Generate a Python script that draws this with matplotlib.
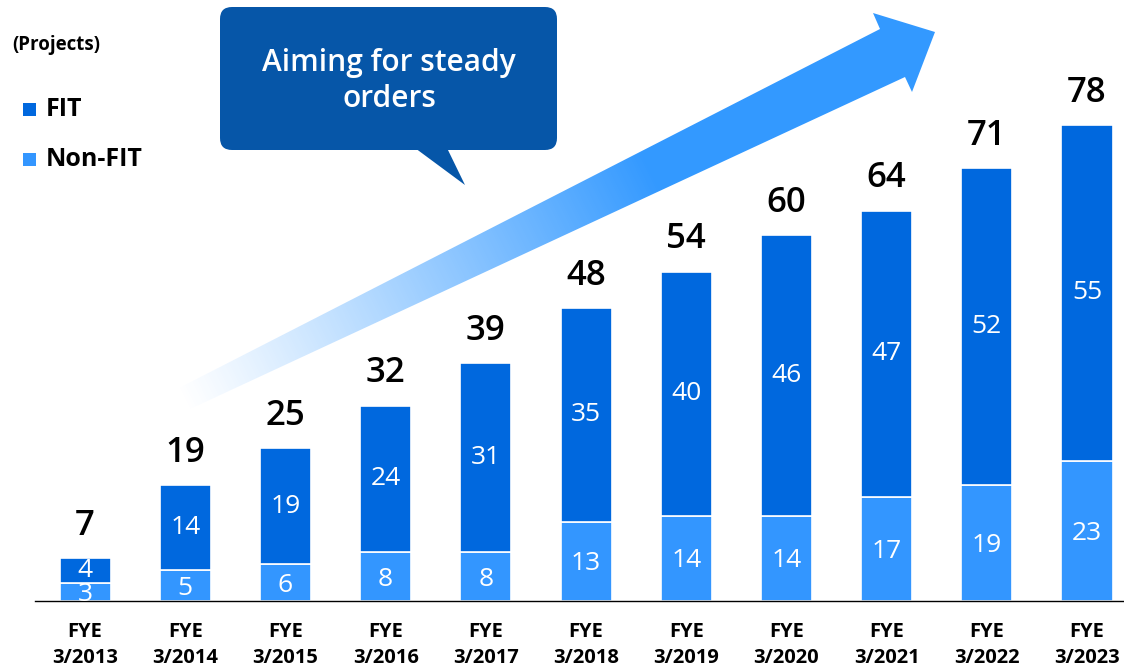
"""
Nombre de projets par exercice : barres empilées FIT / Non-FIT, avec flèche de tendance.
"""

import matplotlib.pyplot as plt
import numpy as np
from matplotlib.patches import FancyBboxPatch, Polygon, Rectangle

plt.rcParams['font.family'] = ['Open Sans', 'DejaVu Sans']

# Données
years = ["3/2013", "3/2014", "3/2015", "3/2016", "3/2017", "3/2018",
         "3/2019", "3/2020", "3/2021", "3/2022", "3/2023"]
non_fit = [3, 5, 6, 8, 8, 13, 14, 14, 17, 19, 23]
fit = [4, 14, 19, 24, 31, 35, 40, 46, 47, 52, 55]

FIT_COLOR = "#0068DE"
NON_FIT_COLOR = "#3396FF"
CALLOUT_COLOR = "#0656A8"
W, H = 1124, 672

fig = plt.figure(figsize=(W / 100, H / 100), dpi=100)

# Calque en coordonnées pixels pour la flèche, la bulle et la légende
deco = fig.add_axes([0, 0, 1, 1], zorder=0)
deco.set_xlim(0, W)
deco.set_ylim(H, 0)
deco.axis("off")

# Axe des barres
ax = fig.add_axes([35 / W, (H - 601) / H, (W - 35) / W, 601 / H], zorder=1)
ax.set_facecolor("none")

x = np.arange(len(years))
totals = [a + b for a, b in zip(non_fit, fit)]

ax.bar(x, non_fit, width=0.51, color=NON_FIT_COLOR, edgecolor="white", linewidth=1.2)
ax.bar(x, fit, width=0.51, bottom=non_fit, color=FIT_COLOR, edgecolor="white", linewidth=1.2)

for xi, nf, f, tot in zip(x, non_fit, fit, totals):
    ax.text(xi, nf / 2 - 0.4, str(nf), ha="center", va="center", color="white",
            fontsize=19, fontweight="medium")
    ax.text(xi, nf + f / 2, str(f), ha="center", va="center", color="white",
            fontsize=19, fontweight="medium")
    ax.annotate(str(tot), (xi, tot), xytext=(0, 11), textcoords="offset points",
                ha="center", va="bottom", fontsize=25, fontweight="semibold")

ax.set_xlim(-0.5, (W - 85) / 100.2)
ax.set_ylim(0, 98.5)
for side in ("top", "right", "left"):
    ax.spines[side].set_visible(False)
ax.spines["bottom"].set_linewidth(1.0)
ax.set_yticks([])
ax.set_xticks(x)
ax.set_xticklabels([f"FYE\n{y}" for y in years], fontsize=14.5, fontweight="bold",
                   linespacing=1.4)
ax.tick_params(axis="x", length=0, pad=15)

# Flèche de tendance avec dégradé
arrow_pts = np.array([
    (177, 389), (880, 29), (873, 13), (935, 32), (912, 92), (905, 77), (188, 410)
])
arrow = Polygon(arrow_pts, closed=True, facecolor="none", edgecolor="none")
deco.add_patch(arrow)

gx, gy = np.meshgrid(np.arange(170, 940), np.arange(10, 415))
d = np.array([935 - 182, 32 - 400], dtype=float)
d /= np.linalg.norm(d)
proj = (gx - 182) * d[0] + (gy - 400) * d[1]
alpha = np.clip(proj / 520, 0, 1) ** 1.1
rgba = np.zeros(gx.shape + (4,))
rgba[..., 0] = 0x33 / 255
rgba[..., 1] = 0x99 / 255
rgba[..., 2] = 1.0
rgba[..., 3] = alpha
img = deco.imshow(rgba, extent=(170, 940, 415, 10), origin="upper",
                  interpolation="bilinear", aspect="auto")
img.set_clip_path(arrow)
deco.set_xlim(0, W)
deco.set_ylim(H, 0)

# Bulle de commentaire
box = FancyBboxPatch((220, 7), 337, 143, boxstyle="round,pad=0,rounding_size=12",
                     facecolor=CALLOUT_COLOR, edgecolor="none")
deco.add_patch(box)
deco.add_patch(Polygon([(415, 148), (447, 148), (465, 185)], closed=True,
                       facecolor=CALLOUT_COLOR, edgecolor="none"))
deco.text(389, 81, "Aiming for steady\norders", ha="center", va="center",
          color="white", fontsize=21.5, fontweight="semibold", linespacing=1.3)

# Légende
deco.text(12, 45, "(Projects)", ha="left", va="center", fontsize=13.5, fontweight="bold")
for ypos, label, color in ((110, "FIT", FIT_COLOR), (160, "Non-FIT", NON_FIT_COLOR)):
    deco.add_patch(Rectangle((23, ypos - 7), 13, 13, facecolor=color, edgecolor="none"))
    deco.text(46, ypos, label, ha="left", va="center", fontsize=18, fontweight="bold")

fig.savefig("out.png", dpi=100)
